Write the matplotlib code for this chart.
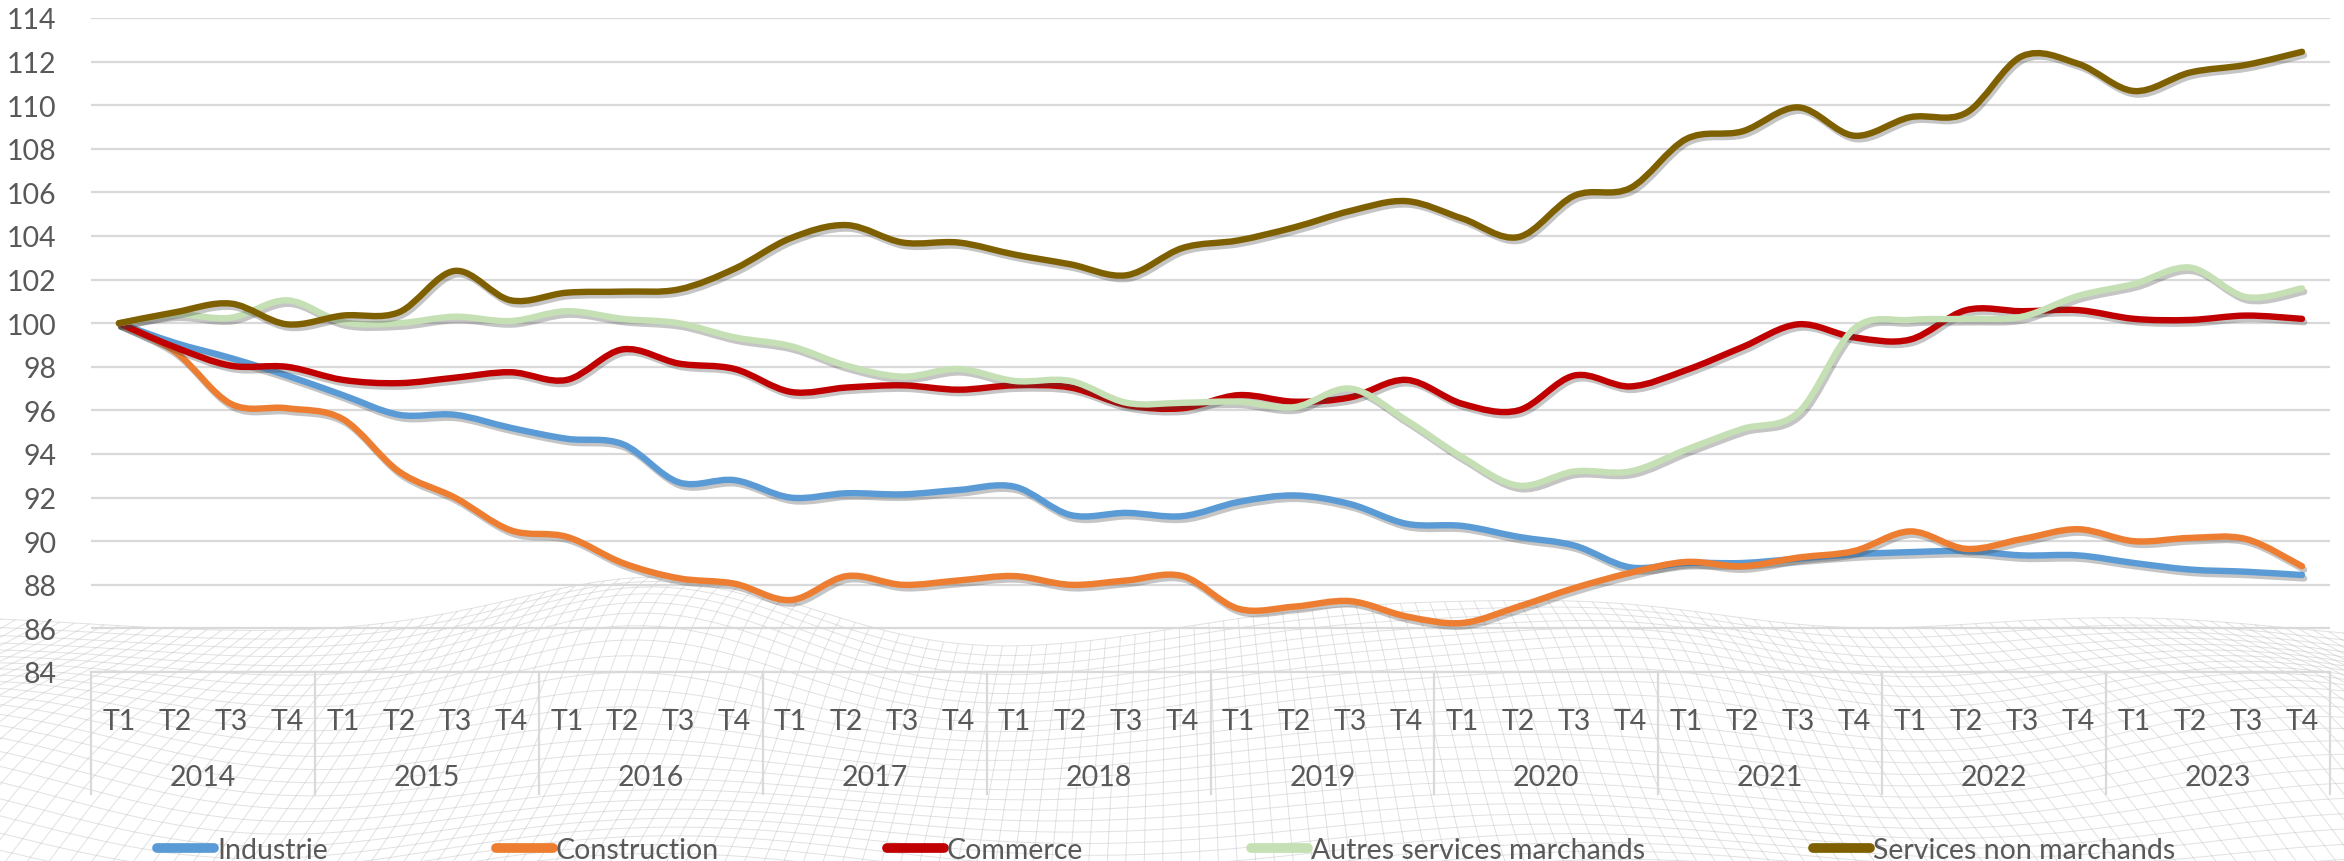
import matplotlib
matplotlib.use("Agg")
import matplotlib.pyplot as plt
from matplotlib.path import Path
from matplotlib.patches import PathPatch
from matplotlib.lines import Line2D
from matplotlib.collections import LineCollection
import matplotlib.patheffects as pe
import numpy as np

# ---------------- data ----------------
years = ["2014", "2015", "2016", "2017", "2018", "2019", "2020", "2021", "2022", "2023"]
quarters = ["T1", "T2", "T3", "T4"]

industrie = [100.0, 99.1, 98.4, 97.6, 96.7, 95.8, 95.8, 95.2, 94.7, 94.45,
             92.7, 92.8, 92.0, 92.2, 92.15, 92.35, 92.5, 91.2, 91.3, 91.15,
             91.8, 92.1, 91.7, 90.8, 90.7, 90.2, 89.8, 88.8, 89.0, 89.0,
             89.2, 89.4, 89.5, 89.55, 89.35, 89.35, 89.0, 88.7, 88.6, 88.45]

construction = [100.0, 98.7, 96.3, 96.1, 95.6, 93.2, 92.0, 90.5, 90.2, 89.0,
                88.3, 88.05, 87.3, 88.4, 88.0, 88.2, 88.4, 88.0, 88.2, 88.4,
                86.9, 87.0, 87.25, 86.55, 86.25, 87.0, 87.85, 88.55, 89.05, 88.85,
                89.25, 89.55, 90.45, 89.65, 90.1, 90.55, 90.0, 90.15, 90.1, 88.85]

commerce = [100.0, 98.9, 98.05, 98.0, 97.4, 97.25, 97.5, 97.75, 97.4, 98.8,
            98.15, 97.9, 96.85, 97.05, 97.15, 96.95, 97.15, 97.05, 96.25, 96.1,
            96.7, 96.4, 96.6, 97.4, 96.3, 96.0, 97.6, 97.1, 97.85, 98.9,
            99.95, 99.35, 99.25, 100.6, 100.55, 100.6, 100.2, 100.15, 100.35, 100.2]

autres_services = [100.0, 100.4, 100.25, 101.05, 100.05, 100.0, 100.3, 100.1, 100.55, 100.2,
                   100.0, 99.35, 98.95, 98.05, 97.55, 97.9, 97.35, 97.35, 96.35, 96.35,
                   96.4, 96.15, 97.0, 95.55, 93.85, 92.55, 93.2, 93.2, 94.2, 95.15,
                   95.9, 99.75, 100.15, 100.2, 100.3, 101.25, 101.8, 102.55, 101.2, 101.6]

services_non_marchands = [100.0, 100.5, 100.9, 99.95, 100.35, 100.5, 102.4, 101.05, 101.4, 101.45,
                          101.55, 102.5, 103.9, 104.5, 103.7, 103.7, 103.15, 102.7, 102.2, 103.45,
                          103.8, 104.4, 105.15, 105.6, 104.8, 103.95, 105.85, 106.2, 108.45, 108.8,
                          109.9, 108.6, 109.45, 109.65, 112.25, 111.9, 110.65, 111.5, 111.85, 112.45]

series_labels = ["Industrie", "Construction", "Commerce",
                 "Autres services marchands", "Services non marchands"]
series_values = [industrie, construction, commerce, autres_services, services_non_marchands]
series_colors = ["#5B9BD5", "#ED7D31", "#C00000", "#C5E0B4", "#7F6000"]

y_ticks = list(range(84, 115, 2))

# ---------------- style ----------------
plt.rcParams["font.family"] = ["Lato", "DejaVu Sans"]
TXT = "#595959"
GRID = "#D9D9D9"
FS = 20.5

W, H = 2344, 862
fig = plt.figure(figsize=(W / 100, H / 100), dpi=100)
fig.patch.set_facecolor("white")

# ---------- decorative wireframe background (pixel coordinates) ----------
bg = fig.add_axes([0, 0, 1, 1], zorder=0)
bg.set_xlim(0, W)
bg.set_ylim(H, 0)
bg.axis("off")

Xw = np.linspace(-1.25, 1.25, 180)
Zw = np.linspace(0.0, 1.0, 48)
XX, ZZ = np.meshgrid(Xw, Zw)
HH = (0.16 * np.exp(-((XX + 0.46) ** 2 / 0.035 + (ZZ - 0.08) ** 2 / 0.03))
      + 0.10 * np.exp(-((XX - 0.45) ** 2 / 0.03 + (ZZ - 0.12) ** 2 / 0.03))
      + 0.08 * np.exp(-((XX + 0.95) ** 2 / 0.04 + (ZZ - 0.3) ** 2 / 0.05))
      + 0.07 * np.exp(-((XX - 0.95) ** 2 / 0.05 + (ZZ - 0.25) ** 2 / 0.04))
      + 0.035 * np.sin(5.0 * XX + 4.0 * ZZ) * np.cos(3.0 * ZZ + 1.3 * XX)
      + 0.03 * np.sin(9.0 * XX - 2.0 * ZZ))
persp = 1.0 + 1.4 * ZZ
SX = W / 2 + XX * (W / 2) * (0.9 + 0.5 * ZZ)
SY = 630 + 480 * ZZ - HH * 380 * persp
segs = [np.column_stack([SX[r], SY[r]]) for r in range(SX.shape[0])]
segs += [np.column_stack([SX[:, c], SY[:, c]]) for c in range(SX.shape[1])]
bg.add_collection(LineCollection(segs, colors="#C4C4C4", linewidths=0.7, alpha=0.5))

# ---------------- main axes ----------------
L, R, T, B = 91, 2330, 19, 673
ax = fig.add_axes([L / W, 1 - B / H, (R - L) / W, (B - T) / H], zorder=2)
ax.set_facecolor("none")

n = len(years) * len(quarters)
x = np.arange(n)


def smooth_path(xs, ys):
    """Excel-like smoothed line: cubic Bezier segments through the points."""
    pts = np.column_stack([xs, ys]).astype(float)
    verts = [pts[0]]
    codes = [Path.MOVETO]
    m = len(pts)
    for i in range(m - 1):
        p0 = pts[i - 1] if i > 0 else pts[i]
        p1 = pts[i]
        p2 = pts[i + 1]
        p3 = pts[i + 2] if i + 2 < m else pts[i + 1]
        c1 = p1 + (p2 - p0) / 6.0
        c2 = p2 - (p3 - p1) / 6.0
        verts += [c1, c2, p2]
        codes += [Path.CURVE4] * 3
    return Path(verts, codes)


shadow = [pe.SimpleLineShadow(offset=(1.5, -2.5), shadow_color="#404040", alpha=0.3),
          pe.Normal()]

handles = []
for k, (lab, vals, col) in enumerate(zip(series_labels, series_values, series_colors)):
    patch = PathPatch(smooth_path(x, vals), facecolor="none", edgecolor=col,
                      lw=4.6, capstyle="round", joinstyle="round", zorder=3 + k)
    patch.set_path_effects(shadow)
    ax.add_patch(patch)
    handles.append(Line2D([0], [0], color=col, lw=7, solid_capstyle="round", label=lab))

ax.set_xlim(-0.5, n - 0.5)
ax.set_ylim(84, 114)
ax.set_yticks(y_ticks)
ax.set_yticklabels([str(v) for v in y_ticks])
ax.yaxis.grid(True, color=GRID, lw=1.6)
ax.set_axisbelow(True)
for s in ["top", "right", "left"]:
    ax.spines[s].set_visible(False)
ax.spines["bottom"].set_color(GRID)
ax.spines["bottom"].set_linewidth(1.6)
ax.tick_params(axis="y", length=0, pad=25, labelsize=FS, labelcolor=TXT)

# quarter tick labels
ax.set_xticks(x)
ax.set_xticklabels([quarters[i % 4] for i in x])
ax.tick_params(axis="x", length=0, pad=26, labelsize=FS, labelcolor=TXT)

# year labels and separators
trans = ax.get_xaxis_transform()
sep_bottom = -(795 - B) / (B - T)
year_y = -(778 - B) / (B - T)
for j, yr in enumerate(years):
    ax.text(4 * j + 1.5, year_y, yr, transform=trans, ha="center", va="center",
            fontsize=FS, color=TXT)
for j in range(len(years) + 1):
    ax.plot([4 * j - 0.5, 4 * j - 0.5], [0, sep_bottom], transform=trans,
            color=GRID, lw=1.6, clip_on=False)

leg = fig.legend(handles=handles, loc="center", bbox_to_anchor=(1166 / W, 1 - 851 / H),
                 ncol=5, frameon=False, fontsize=FS, labelcolor=TXT,
                 handlelength=2.0, handletextpad=0.1, columnspacing=5.9, borderpad=0)

fig.savefig("out.png", dpi=100, facecolor="white")
